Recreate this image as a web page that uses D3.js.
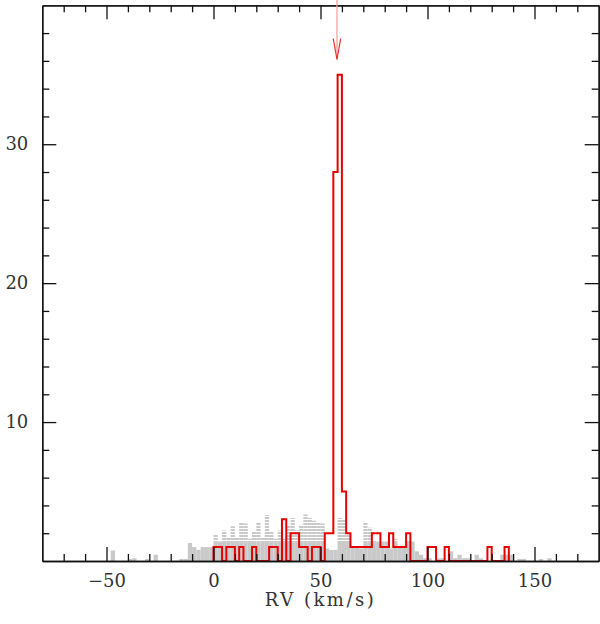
<!DOCTYPE html>
<html>
<head>
<meta charset="utf-8">
<style>
body { margin: 0; background: #fff; }
svg { display: block; }
.axis path, .axis line { stroke: #111; stroke-width: 1.3; }
.axis text { font-family: "DejaVu Serif", serif; fill: #333; }
.label { font-family: "DejaVu Serif", serif; fill: #333; }
</style>
</head>
<body>
<svg width="600" height="624"></svg>
<script src="https://d3js.org/d3.v7.min.js"></script>
<script>
// histogram bins are 2 km/s wide, counts listed from the first bin's lower edge
var binWidth = 2;

// red: stars of the cluster sample
var redStart = 0;
var redCounts = [1, 1, 0, 1, 1, 0, 1, 0, 0, 1,
                 0, 0, 0, 1, 1, 0, 3, 0, 2, 2,
                 1, 1, 0, 1, 1, 0, 2, 2, 28, 35,
                 5, 2, 1, 1, 1, 1, 1, 2, 2, 1,
                 1, 2, 1, 1, 1, 2, 0, 0, 0, 0,
                 1, 1, 0, 0, 1, 0, 0, 0, 0, 0,
                 0, 0, 0, 0, 1, 0, 0, 0, 1];

// grey: scaled field model
var grayStart = -48;
var grayCounts = [0.75, 0, 0, 0, 0.15, 0.2, 0, 0, 0.15, 0,
                  0.45, 0, 0, 0, 0, 0, 0.15, 0.15, 1.3, 1.0,
                  0.8, 1.0, 1.0, 1.0, 1.9, 1.4, 2.2, 1.7, 2.5, 1.7,
                  2.8, 2.7, 1.6, 2.1, 2.8, 1.7, 3.3, 2.1, 1.6, 2.2,
                  1.6, 2.6, 3.1, 2.2, 2.6, 3.35, 3.1, 2.9, 2.8, 2.7,
                  0.9, 0.8, 0.8, 3.1, 3.0, 1.9, 1.0, 1.0, 0.9, 2.8,
                  2.4, 1.5, 1.4, 1.4, 1.4, 0.9, 1.6, 1.0, 1.1, 1.5,
                  1.4, 0.7, 0.45, 0.2, 0.2, 0, 0.2, 0.2, 0, 0.7,
                  0.2, 0.45, 0.2, 0.2, 0, 0.45, 0.2, 0, 0, 0,
                  0, 0.45, 0.45, 0.45, 0, 0.15, 0.15, 0, 0, 0,
                  0.15, 0, 0.2];

var xMajorTicks = [-50, 0, 50, 100, 150];
var xMinorTicks = [-70, -60, -40, -30, -20, -10, 10, 20, 30, 40, 60, 70, 80, 90,
                   110, 120, 130, 140, 160, 170];
var yMajorTicks = [10, 20, 30];
var yMinorTicks = [2, 4, 6, 8, 12, 14, 16, 18, 22, 24, 26, 28, 32, 34, 36, 38];
var xLabel = "RV (km/s)";

// mean cluster velocity marked by the arrow
var arrowRV = 57.7;
var arrowTop = 40.4, arrowTip = 36.1, arrowHead = 37.6;

var svg = d3.select("svg"),
    width = +svg.attr("width"),
    height = +svg.attr("height"),
    margin = {top: 5.3, right: 1.3, bottom: 63, left: 42.3};

var x = d3.scaleLinear().domain([-80, 180]).range([margin.left, width - margin.right]);
var y = d3.scaleLinear().domain([0, 40]).range([height - margin.bottom, margin.top]);

// stripe pattern for the upper part of the grey bars
var defs = svg.append("defs");
var pat = defs.append("pattern")
    .attr("id", "stripes")
    .attr("patternUnits", "userSpaceOnUse")
    .attr("width", 6).attr("height", 3);
pat.append("rect").attr("width", 6).attr("height", 3).attr("fill", "#c9c9c9");
pat.append("rect").attr("width", 6).attr("height", 1).attr("fill", "#fff");

var solidLevel = 1.3;

var gray = grayCounts.map(function(c, i) {
  return {x0: grayStart + i * binWidth, x1: grayStart + (i + 1) * binWidth, c: c};
}).filter(function(d) { return d.c > 0; });

var g = svg.append("g");
g.selectAll("rect.solid")
  .data(gray)
  .enter().append("rect")
    .attr("class", "solid")
    .attr("x", function(d) { return x(d.x0); })
    .attr("width", function(d) { return x(d.x1) - x(d.x0); })
    .attr("y", function(d) { return y(Math.min(d.c, solidLevel)); })
    .attr("height", function(d) { return y(0) - y(Math.min(d.c, solidLevel)); })
    .attr("fill", "#c9c9c9");

g.selectAll("rect.striped")
  .data(gray.filter(function(d) { return d.c > solidLevel; }))
  .enter().append("rect")
    .attr("class", "striped")
    .attr("x", function(d) { return x(d.x0); })
    .attr("width", function(d) { return x(d.x1) - x(d.x0); })
    .attr("y", function(d) { return y(d.c); })
    .attr("height", function(d) { return y(solidLevel) - y(d.c); })
    .attr("fill", "url(#stripes)");

// red step outline
var pts = [[redStart, 0]];
redCounts.forEach(function(c, i) {
  pts.push([redStart + i * binWidth, c]);
  pts.push([redStart + (i + 1) * binWidth, c]);
});
pts.push([redStart + redCounts.length * binWidth, 0]);

var line = d3.line()
    .x(function(d) { return x(d[0]); })
    .y(function(d) { return y(d[1]); });

svg.append("path")
    .datum(pts)
    .attr("d", line)
    .attr("fill", "none")
    .attr("stroke", "#e60000")
    .attr("stroke-width", 2)
    .attr("stroke-linejoin", "miter");

// axes: ticks point inward on all four sides
function styleAxis(sel) {
  sel.attr("class", "axis").attr("font-family", null).attr("font-size", 18);
}

svg.append("g")
    .attr("transform", "translate(0," + y(0) + ")")
    .call(d3.axisBottom(x).tickValues(xMajorTicks).tickSize(-14).tickSizeOuter(0).tickPadding(13))
    .call(styleAxis);
svg.append("g")
    .attr("transform", "translate(0," + y(0) + ")")
    .call(d3.axisBottom(x).tickValues(xMinorTicks).tickSize(-7).tickSizeOuter(0).tickFormat(""))
    .call(styleAxis);
svg.append("g")
    .attr("transform", "translate(0," + y(40) + ")")
    .call(d3.axisTop(x).tickValues(xMajorTicks).tickSize(-14).tickSizeOuter(0).tickFormat(""))
    .call(styleAxis);
svg.append("g")
    .attr("transform", "translate(0," + y(40) + ")")
    .call(d3.axisTop(x).tickValues(xMinorTicks).tickSize(-7).tickSizeOuter(0).tickFormat(""))
    .call(styleAxis);

svg.append("g")
    .attr("transform", "translate(" + x(-80) + ",0)")
    .call(d3.axisLeft(y).tickValues(yMajorTicks).tickSize(-14).tickSizeOuter(0).tickPadding(14))
    .call(styleAxis);
svg.append("g")
    .attr("transform", "translate(" + x(-80) + ",0)")
    .call(d3.axisLeft(y).tickValues(yMinorTicks).tickSize(-7).tickSizeOuter(0).tickFormat(""))
    .call(styleAxis);
svg.append("g")
    .attr("transform", "translate(" + x(180) + ",0)")
    .call(d3.axisRight(y).tickValues(yMajorTicks).tickSize(-14).tickSizeOuter(0).tickFormat(""))
    .call(styleAxis);
svg.append("g")
    .attr("transform", "translate(" + x(180) + ",0)")
    .call(d3.axisRight(y).tickValues(yMinorTicks).tickSize(-7).tickSizeOuter(0).tickFormat(""))
    .call(styleAxis);

svg.append("text")
    .attr("class", "label")
    .attr("x", (x(-80) + x(180)) / 2)
    .attr("y", 606)
    .attr("text-anchor", "middle")
    .attr("font-size", 18)
    .attr("letter-spacing", "2.5px")
    .text(xLabel);

// arrow
var ax = x(arrowRV);
svg.append("line")
    .attr("x1", ax).attr("x2", ax)
    .attr("y1", y(arrowTop)).attr("y2", y(arrowTip))
    .attr("stroke", "#f4a3a3")
    .attr("stroke-width", 1.3);
svg.append("path")
    .attr("d", "M" + (ax - 3.7) + "," + y(arrowHead) + "L" + ax + "," + y(arrowTip) + "L" + (ax + 3.7) + "," + y(arrowHead))
    .attr("fill", "none")
    .attr("stroke", "#e83030")
    .attr("stroke-width", 1.2);
</script>
</body>
</html>
